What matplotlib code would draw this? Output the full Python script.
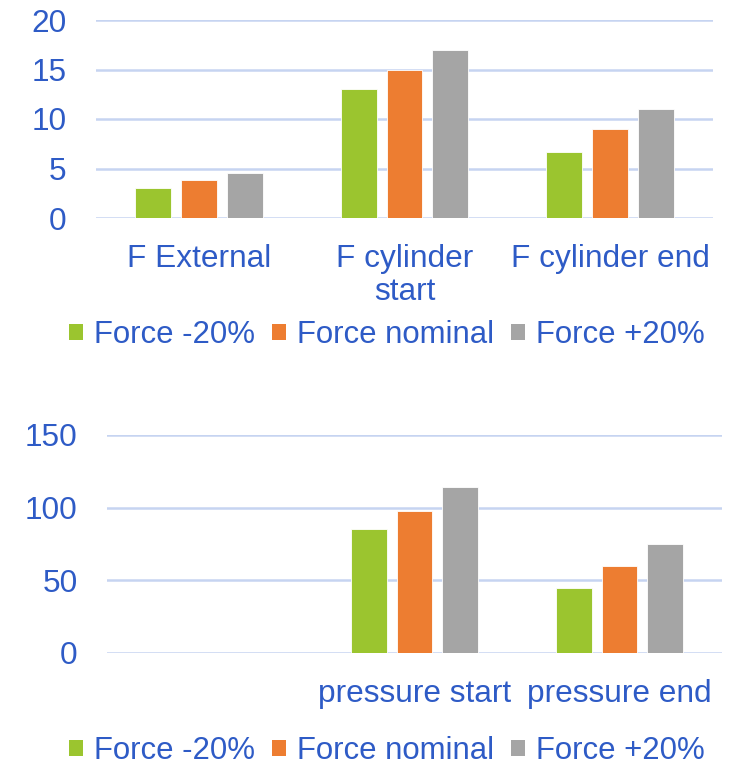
import matplotlib
matplotlib.use("Agg")
import matplotlib.pyplot as plt
from matplotlib.patches import Patch
import numpy as np

plt.rcParams['font.family'] = ['Liberation Sans', 'DejaVu Sans']

# Data
series_names = ["Force -20%", "Force nominal", "Force +20%"]
series_colors = ["#9BC52F", "#ED7D31", "#A5A5A5"]

force_categories = ["F External", "F cylinder\nstart", "F cylinder end"]
force_minus20 = [3.0, 13.0, 6.7]
force_nominal = [3.8, 15.0, 9.0]
force_plus20 = [4.5, 17.0, 11.0]
force_ticks = [0, 5, 10, 15, 20]

pressure_categories = ["", "pressure start", "pressure end"]
pressure_minus20 = [0, 85, 45]
pressure_nominal = [0, 98, 60]
pressure_plus20 = [0, 114, 75]
pressure_ticks = [0, 50, 100, 150]

TEXT = "#2E5BC6"
GRID = "#C6D4F1"
FS = 22.8
LEG_FS = 22.4

W, H = 735, 768
fig = plt.figure(figsize=(W / 100, H / 100), dpi=100)


def px_axes(left, top, right, bottom):
    return fig.add_axes([left / W, 1 - bottom / H, (right - left) / W, (bottom - top) / H])


def draw(ax, cats, series, ticks):
    x = np.arange(len(cats))
    bw = 0.175
    step = 0.2235
    for i, (vals, col) in enumerate(zip(series, series_colors)):
        ax.bar(x + (i - 1) * step, vals, width=bw, color=col,
               edgecolor="white", linewidth=0.6, zorder=3)
    ax.set_xlim(-0.5, len(cats) - 0.5)
    ax.set_ylim(ticks[0], ticks[-1])
    ax.set_yticks(ticks)
    ax.set_xticks(x)
    ax.set_xticklabels(cats, linespacing=1.1)
    for s in ax.spines.values():
        s.set_visible(False)
    ax.yaxis.grid(True, color=GRID, linewidth=1.8, zorder=0)
    ax.set_axisbelow(True)
    ax.tick_params(axis='y', length=0, pad=21, labelsize=FS, labelcolor=TEXT)
    ax.tick_params(axis='x', length=0, pad=19, labelsize=FS, labelcolor=TEXT)


ax1 = px_axes(96, 20, 713, 218)
draw(ax1, force_categories, [force_minus20, force_nominal, force_plus20], force_ticks)

ax2 = px_axes(107, 435, 722, 653)
draw(ax2, pressure_categories, [pressure_minus20, pressure_nominal, pressure_plus20], pressure_ticks)

handles = [Patch(facecolor=c, edgecolor='none') for c in series_colors]
for yc in (335, 751):
    fig.legend(handles, series_names, loc='center', bbox_to_anchor=(387 / W, 1 - yc / H),
               ncol=3, frameon=False, fontsize=LEG_FS, labelcolor=TEXT,
               handlelength=0.45, handleheight=0.45, handletextpad=0.35,
               columnspacing=0.55, borderpad=0, borderaxespad=0)

fig.savefig("out.png", dpi=100)
